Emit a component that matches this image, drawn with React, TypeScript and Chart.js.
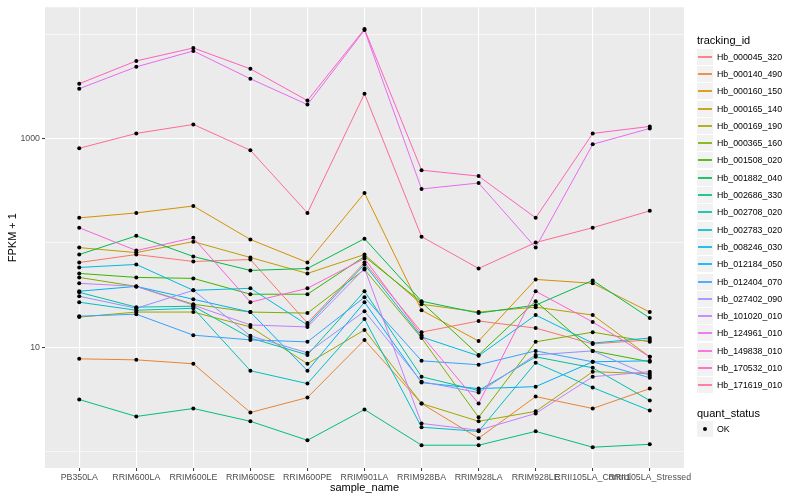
import React, { useEffect, useRef } from "react";
import { Chart, registerables } from "chart.js";
Chart.register(...registerables);

const categories = [
  "PB350LA", "RRIM600LA", "RRIM600LE", "RRIM600SE", "RRIM600PE", "RRIM901LA",
  "RRIM928BA", "RRIM928LA", "RRIM928LE", "RRII105LA_Control", "RRII105LA_Stressed",
];

const trackingIds = [
  "Hb_000045_320", "Hb_000140_490", "Hb_000160_150", "Hb_000165_140", "Hb_000169_190",
  "Hb_000365_160", "Hb_001508_020", "Hb_001882_040", "Hb_002686_330", "Hb_002708_020",
  "Hb_002783_020", "Hb_008246_030", "Hb_012184_050", "Hb_012404_070", "Hb_027402_090",
  "Hb_101020_010", "Hb_124961_010", "Hb_149838_010", "Hb_170532_010", "Hb_171619_010",
];

const seriesColors = [
  "#F8766D", "#EA8331", "#D89000", "#C09B00", "#A3A500", "#7CAE00", "#39B600", "#00BB4E",
  "#00BF7D", "#00C1A3", "#00BFC4", "#00BAE0", "#00B0F6", "#35A2FF", "#9590FF", "#C77CFF",
  "#E76BF3", "#FA62DB", "#FF62BC", "#FF6C91",
];

// FPKM + 1 values per tracking id, in category order
const Hb_000045_320 = [65, 77.5, 66.5, 69.4, 17.1, 65, 14.0, 17.9, 15.3, 10.8, 11.8];
const Hb_000140_490 = [7.77, 7.6, 6.97, 2.38, 3.31, 11.8, 2.9, 1.35, 3.38, 2.6, 4.03];
const Hb_000160_150 = [174, 194, 226, 108, 65, 301, 22.7, 11.5, 44.8, 41.1, 21.8];
const Hb_000165_140 = [90.3, 80.9, 103, 72.6, 51.1, 77.5, 25.9, 21.8, 24.3, 20.4, 8.12];
const Hb_000169_190 = [19.5, 21.8, 21.8, 15.7, 6.97, 14.7, 2.9, 1.96, 2.44, 5.85, 5.6];
const Hb_000365_160 = [46.8, 38.4, 25.9, 21.8, 21.3, 55.8, 12.3, 2.14, 11.3, 14.0, 11.3];
const Hb_001508_020 = [51.1, 46.8, 45.8, 32.3, 32.3, 74.2, 27.1, 8.48, 27.7, 9.26, 7.28];
const Hb_001882_040 = [77.5, 117, 74.2, 54.6, 57, 110, 27.7, 21.3, 25.4, 43.8, 19.1];
const Hb_002686_330 = [3.17, 2.18, 2.6, 1.96, 1.29, 2.54, 1.157, 1.157, 1.57, 1.107, 1.18];
const Hb_002708_020 = [33.7, 24.3, 24.8, 12.3, 8.48, 34.5, 5.24, 3.86, 8.12, 6.38, 3.1];
const Hb_002783_020 = [27.1, 22.7, 23.7, 5.98, 4.5, 18.7, 1.72, 1.57, 7.12, 4.12, 2.49];
const Hb_008246_030 = [58.3, 62.3, 35.2, 36.8, 16.4, 62.3, 12.6, 8.3, 20.4, 11.0, 12.3];
const Hb_012184_050 = [34.5, 38.4, 28.9, 21.8, 5.98, 27.1, 4.6, 4.03, 4.21, 7.28, 7.44];
const Hb_012404_070 = [19.9, 20.8, 13.1, 11.8, 11.3, 30.2, 7.44, 6.82, 9.26, 7.28, 5.13];
const Hb_027402_090 = [30.9, 23.7, 35.2, 12.9, 8.87, 22.2, 4.7, 3.69, 8.48, 9.26, 5.36];
const Hb_101020_010 = [41.1, 38.4, 25.4, 16.4, 15.7, 57, 1.87, 1.61, 2.33, 5.24, 5.85];
const Hb_124961_010 = [3002, 4860, 6900, 3736, 2114, 10930, 329, 375, 90.3, 881, 1250];
const Hb_149838_010 = [140, 84.6, 112, 27.1, 36.8, 71.0, 13.1, 2.9, 34.5, 17.5, 8.12];
const Hb_170532_010 = [3350, 5540, 7370, 4650, 2310, 11170, 498, 437, 174, 1120, 1306];
const Hb_171619_010 = [807, 1120, 1365, 772, 194, 2690, 115, 57, 101, 140, 203];

const seriesValues = [
  Hb_000045_320, Hb_000140_490, Hb_000160_150, Hb_000165_140, Hb_000169_190,
  Hb_000365_160, Hb_001508_020, Hb_001882_040, Hb_002686_330, Hb_002708_020,
  Hb_002783_020, Hb_008246_030, Hb_012184_050, Hb_012404_070, Hb_027402_090,
  Hb_101020_010, Hb_124961_010, Hb_149838_010, Hb_170532_010, Hb_171619_010,
];

const yGridValues = [1, 10, 100, 1000, 10000];
const yLabelValues = [10, 1000];
const quantStatus = ["OK"];

const FONT = "'Liberation Sans', Arial, Helvetica, sans-serif";

const panelBg = {
  id: "panelBg",
  beforeDraw(chart: any) {
    const { ctx, chartArea } = chart;
    if (!chartArea) return;
    ctx.save();
    ctx.fillStyle = "#EBEBEB";
    ctx.fillRect(chartArea.left, chartArea.top, chartArea.right - chartArea.left, chartArea.bottom - chartArea.top);
    ctx.restore();
  },
};

export default function App() {
  const canvasRef = useRef<HTMLCanvasElement | null>(null);

  useEffect(() => {
    if (!canvasRef.current) return;
    const lineSets = seriesValues.map((vals, i) => ({
      label: trackingIds[i],
      data: vals.map((v, j) => ({ x: j, y: v })),
      borderColor: seriesColors[i],
      backgroundColor: seriesColors[i],
      borderWidth: 1,
      pointRadius: 0,
      showLine: true,
      fill: false,
      tension: 0,
      order: seriesValues.length - i + 1,
    }));
    const pointSet = {
      label: quantStatus[0],
      data: seriesValues.flatMap((vals) => vals.map((v, j) => ({ x: j, y: v }))),
      showLine: false,
      pointRadius: 2,
      pointBackgroundColor: "#000000",
      pointBorderWidth: 0,
      borderColor: "#000000",
      order: 0,
    };
    const chart = new Chart(canvasRef.current, {
      type: "scatter",
      data: { datasets: [...lineSets, pointSet] as any },
      plugins: [panelBg],
      options: {
        animation: false,
        responsive: false,
        events: [],
        layout: { padding: { left: 0, top: 5, right: 116, bottom: 0 } },
        plugins: { legend: { display: false }, tooltip: { enabled: false } },
        scales: {
          x: {
            type: "linear",
            min: -0.6,
            max: 10.6,
            afterBuildTicks: (s: any) => {
              s.ticks = categories.map((_, i) => ({ value: i }));
            },
            afterFit: (s: any) => {
              s.height = 32;
            },
            ticks: {
              autoSkip: false,
              maxRotation: 0,
              minRotation: 0,
              color: "#4D4D4D",
              padding: 1,
              font: { family: FONT, size: 8.8 },
              callback: (v: any) => categories[Math.round(Number(v))],
            },
            grid: {
              color: "#FFFFFF",
              lineWidth: 1.1,
              drawTicks: true,
              tickLength: 3,
              tickColor: "#333333",
              tickWidth: 1,
            },
            border: { display: false },
            title: {
              display: true,
              text: "sample_name",
              color: "#000000",
              font: { family: FONT, size: 11 },
              padding: { top: 0, bottom: 5 },
            },
          },
          y: {
            type: "logarithmic",
            min: 0.715,
            max: 18080,
            afterBuildTicks: (s: any) => {
              s.ticks = yGridValues.map((v) => ({ value: v, major: yLabelValues.includes(v) }));
            },
            afterFit: (s: any) => {
              s.width = 45;
            },
            ticks: {
              autoSkip: false,
              color: "#4D4D4D",
              padding: 2,
              font: { family: FONT, size: 8.8 },
              callback: (v: any) => (yLabelValues.includes(Number(v)) ? String(v) : ""),
            },
            grid: {
              color: "#FFFFFF",
              lineWidth: (ctx: any) => (ctx.tick && yLabelValues.includes(ctx.tick.value) ? 1.1 : 0.55),
              drawTicks: true,
              tickLength: 3,
              tickColor: (ctx: any) => (ctx.tick && yLabelValues.includes(ctx.tick.value) ? "#333333" : "rgba(0,0,0,0)"),
              tickWidth: 1,
            },
            border: { display: false },
            title: {
              display: true,
              text: "FPKM + 1",
              color: "#000000",
              font: { family: FONT, size: 11 },
              padding: { top: 6, bottom: 0 },
            },
          },
        },
      } as any,
    });
    return () => chart.destroy();
  }, []);

  const keyTop0 = 48.6;
  const keyStep = 17.3;

  return (
    <div style={{ position: "fixed", left: 0, top: 0, width: 800, height: 500, background: "#FFFFFF", fontFamily: FONT }}>
      <canvas ref={canvasRef} width={800} height={500} style={{ position: "absolute", left: 0, top: 0 }} />
      <div style={{ position: "absolute", left: 697, top: 33, fontSize: 11, color: "#000", lineHeight: "14px" }}>tracking_id</div>
      {trackingIds.map((id, i) => {
        const top = Math.round(keyTop0 + i * keyStep);
        return (
          <React.Fragment key={id}>
            <div
              style={{
                position: "absolute",
                left: 697,
                top,
                width: 16,
                height: 16,
                background: "#F2F2F2",
              }}
            >
              <div
                style={{
                  position: "absolute",
                  left: 1,
                  width: 14,
                  top: 7,
                  height: 2,
                  background: seriesColors[i],
                  opacity: 0.85,
                }}
              />
            </div>
            <div
              style={{
                position: "absolute",
                left: 717,
                top: top + 2,
                fontSize: 8.8,
                lineHeight: "12px",
                color: "#000",
                whiteSpace: "nowrap",
              }}
            >
              {id}
            </div>
          </React.Fragment>
        );
      })}
      <div style={{ position: "absolute", left: 697, top: 405.5, fontSize: 11, color: "#000", lineHeight: "14px" }}>quant_status</div>
      <div style={{ position: "absolute", left: 697, top: 421, width: 16, height: 16, background: "#F2F2F2" }}>
        <div style={{ position: "absolute", left: 6, top: 6, width: 4, height: 4, borderRadius: 2, background: "#000" }} />
      </div>
      <div style={{ position: "absolute", left: 717, top: 423, fontSize: 8.8, lineHeight: "12px", color: "#000" }}>{quantStatus[0]}</div>
    </div>
  );
}
